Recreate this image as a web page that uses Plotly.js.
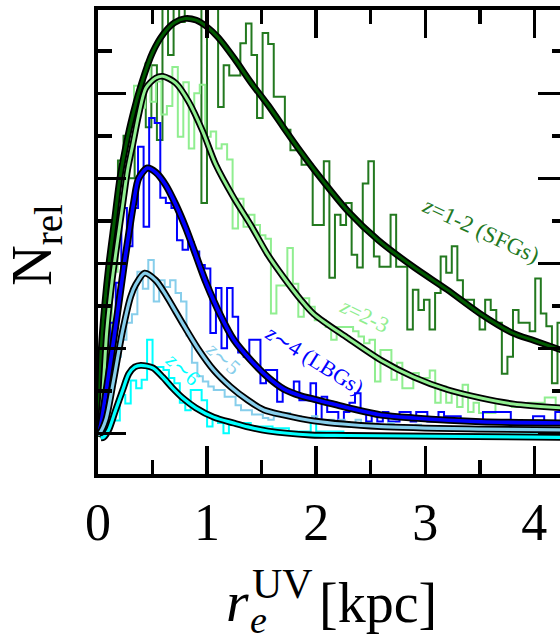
<!DOCTYPE html>
<html>
<head>
<meta charset="utf-8">
<script src="https://cdn.plot.ly/plotly-3.0.1.min.js"></script>
<style>
  html, body { margin: 0; padding: 0; overflow: hidden; background: #fff; }
  #chart { width: 580px; height: 640px; }
</style>
</head>
<body>
<div id="chart"></div>
<script>
// ---- size distributions: relative counts per bin, r_e^UV in kpc ----
// z = 1-2 (SFGs)
const sfgBinStart = 0.03, sfgBinWidth = 0.051;
const sfgCounts = [0.8, 1.6, 2.3, 3.21, 3.5, 3.0, 3.9, 4.1, 3.6, 4.33,
  3.45, 5.3, 4.45, 5.4, 4.84, 5.3, 5.5, 5.2, 2.71, 5.3,
  5.2, 3.84, 4.33, 4.21, 4.21, 4.59, 4.82, 4.45, 3.71, 4.71,
  4.58, 3.96, 3.96, 3.57, 3.33, 3.33, 3.16, 3.16, 2.45, 2.45,
  3.2, 1.83, 2.57, 2.45, 2.71, 2.1, 1.95, 2.94, 3.2, 2.08,
  1.96, 1.96, 2.57, 1.96, 1.96, 1.22, 1.69, 1.45, 1.57, 1.22,
  1.65, 2.08, 1.89, 2.2, 1.8, 1.57, 1.57, 1.43, 1.22, 1.57,
  1.45, 1.30, 0.70, 0.90, 1.45, 1.30, 1.30, 1.20, 1.82, 1.41,
  1.26, 0.59, 1.30];
// z = 2-3
const z23BinStart = 0.029, z23BinWidth = 0.0502;
const z23Counts = [0.5, 1.2, 1.9, 2.6, 3.0, 3.4, 4.09, 3.83, 4.35, 3.9,
  4.14, 3.75, 3.85, 4.31, 3.49, 4.13, 3.35, 4.0, 4.10, 3.49,
  3.55, 3.35, 3.40, 3.22, 2.41, 2.76, 2.43, 2.57, 2.45, 2.33,
  2.29, 1.41, 1.74, 1.74, 2.18, 1.76, 1.37, 1.59, 1.49, 1.33,
  1.33, 1.25, 1.10, 1.25, 1.25, 1.25, 1.20, 1.14, 1.06, 1.10,
  0.61, 0.98, 0.98, 0.63, 0.83, 0.53, 0.53, 0.71, 0.65, 0.65,
  0.74, 0.36, 0.55, 0.36, 0.47, 0.31, 0.57, 0.25, 0.36, 0.24,
  0.24, 0.24, 0.36, 0.36, 0.36, 0.31, 0.31, 0.31, 0.36, 0.36,
  0.36, 0.42, 0.42, 0.30, 0.30];
// z ~ 4 (LBGs)
const z4BinStart = 0.01, z4BinWidth = 0.051;
const z4Counts = [0.3, 0.8, 1.3, 1.77, 2.65, 2.2, 2.65, 3.37, 2.43, 3.71,
  3.65, 2.77, 2.71, 2.65, 2.27, 2.16, 2.25, 2.14, 1.98, 1.94,
  1.18, 1.71, 1.0, 1.71, 1.37, 0.95, 0.90, 1.10, 1.10, 0.59,
  0.745, 0.745, 0.37, 0.49, 0.49, 0.61, 0.39, 0.39, 0.59, 0.14,
  0.43, 0.25, 0.25, 0.14, 0.25, 0.36, 0.47, 0.25, 0.14, 0.25,
  0.14, 0.25, 0.14, 0.14, 0.25, 0.25, 0.14, 0.25, 0.25, 0.14,
  0.14, 0.25, 0.20, 0.20, 0.20, 0.14, 0.14, 0.14, 0.14, 0.25,
  0.25, 0.25, 0.25, 0.25, 0.14, 0.14, 0.14, 0.14, 0.20, 0.20,
  0.14, 0.14, 0.25, 0.14];
// z ~ 5
const z5BinStart = 0.011, z5BinWidth = 0.05;
const z5Counts = [0.15, 0.35, 0.6, 0.9, 1.1, 1.3, 1.4, 1.90, 1.70, 2.04,
  1.55, 1.80, 1.72, 1.80, 1.65, 1.55, 1.15, 0.83, 0.67, 0.61,
  0.55, 0.51, 0.51, 0.43, 0.43, 0.33, 0.27, 0.27, 0.22, 0.22,
  0.18, 0.16, 0.20, 0.24, 0.24, 0.20, 0.20, 0.16, 0.16, 0.20,
  0.16, 0.12, 0.16, 0.12, 0.16, 0.10, 0.10, 0.16, 0.10, 0.12,
  0.10, 0.08, 0.08, 0.12, 0.08, 0.08, 0.08, 0.08, 0.10, 0.06,
  0.06, 0.06, 0.06, 0.06, 0.06, 0.06, 0.06, 0.06, 0.06, 0.06,
  0.06, 0.06, 0.06, 0.06, 0.06, 0.06, 0.06, 0.06, 0.06, 0.06,
  0.06, 0.06, 0.06, 0.06, 0.06, 0.06];
// z ~ 6
const z6BinStart = 0.0, z6BinWidth = 0.05;
const z6Counts = [0.0, 0.05, 0.15, 0.15, 0.45, 0.35, 0.62, 0.53, 0.63, 1.10,
  0.78, 0.78, 0.745, 0.65, 0.59, 0.36, 0.27, 0.51, 0.51, 0.39,
  0.08, 0.20, 0.12, 0.0, 0.10, 0.12, 0.12, 0.12, 0.08, 0.08,
  0.08, 0.08, 0.06, 0.06, 0.06, 0.02, 0.02, 0.02, 0.02, 0.12,
  0.02, 0.02, 0.02, 0.02, 0.02, -0.01, -0.01, -0.01, -0.01, -0.01,
  -0.01, -0.01, -0.01, -0.01, -0.01, -0.01, -0.01, -0.01, -0.01, -0.01,
  -0.01, -0.01, -0.01, -0.01, -0.01, -0.01, -0.01, -0.01, -0.01, -0.01,
  -0.01, -0.01, -0.01, -0.01, -0.01, -0.01, -0.01, -0.01, -0.01, -0.01,
  -0.01, -0.01, -0.01, -0.01, -0.01, -0.01];

// ---- log-normal fits, sampled ----
const sfgFitX = [0, 0.015, 0.03, 0.06, 0.1, 0.15, 0.2, 0.25, 0.3, 0.4, 0.5, 0.6, 0.7, 0.8, 0.9, 1.0, 1.1, 1.25, 1.4, 1.56, 1.7, 1.86, 2.0, 2.3, 2.57, 2.9, 3.2, 3.5, 3.8, 4.0, 4.3];
const sfgFitY = [-0.04, 0.45, 1.0, 1.5, 2.0, 2.5, 3.0, 3.35, 3.65, 4.12, 4.48, 4.70, 4.83, 4.88, 4.86, 4.78, 4.66, 4.41, 4.13, 3.86, 3.60, 3.31, 3.07, 2.60, 2.27, 1.95, 1.69, 1.41, 1.18, 1.09, 0.955];
const z23FitX = [0, 0.02, 0.04, 0.08, 0.13, 0.18, 0.23, 0.272, 0.318, 0.373, 0.438, 0.529, 0.594, 0.713, 0.832, 0.961, 1.08, 1.245, 1.40, 1.557, 1.704, 1.86, 1.98, 2.29, 2.594, 2.896, 3.21, 3.51, 3.81, 4.3];
const z23FitY = [0.0, 0.15, 0.39, 1.2, 1.8, 2.27, 2.72, 3.10, 3.39, 3.745, 4.06, 4.18, 4.20, 4.12, 3.90, 3.55, 3.16, 2.77, 2.45, 2.10, 1.83, 1.57, 1.40, 1.12, 0.86, 0.66, 0.51, 0.415, 0.345, 0.295];
const z4FitX = [0, 0.025, 0.09, 0.163, 0.236, 0.28, 0.328, 0.373, 0.453, 0.529, 0.621, 0.713, 0.805, 0.896, 0.988, 1.126, 1.245, 1.40, 1.557, 1.704, 1.86, 1.98, 2.29, 2.594, 2.896, 3.51, 4.3];
const z4FitY = [-0.01, 0.1, 0.63, 1.27, 1.95, 2.33, 2.72, 3.00, 3.12, 3.07, 2.92, 2.69, 2.415, 2.10, 1.78, 1.38, 1.10, 0.86, 0.66, 0.52, 0.44, 0.40, 0.30, 0.215, 0.18, 0.136, 0.12];
const z5FitX = [0.0, 0.016, 0.071, 0.144, 0.227, 0.30, 0.346, 0.428, 0.529, 0.621, 0.713, 0.786, 0.915, 1.06, 1.217, 1.373, 1.52, 1.70, 1.98, 2.594, 3.51, 4.3];
const z5FitY = [-0.02, 0.0, 0.156, 0.63, 1.215, 1.61, 1.75, 1.885, 1.80, 1.63, 1.43, 1.27, 1.0, 0.745, 0.545, 0.39, 0.275, 0.215, 0.145, 0.078, 0.05, 0.04];
const z6FitX = [0.025, 0.052, 0.098, 0.162, 0.227, 0.282, 0.337, 0.392, 0.502, 0.594, 0.685, 0.777, 0.896, 1.06, 1.245, 1.373, 1.557, 1.95, 2.29, 4.3];
const z6FitY = [-0.055, -0.045, 0.04, 0.275, 0.51, 0.70, 0.78, 0.80, 0.77, 0.66, 0.53, 0.415, 0.30, 0.19, 0.12, 0.075, 0.027, -0.02, -0.026, -0.048];

// ---- tick labels ----
const xTickVals = [0, 1, 2, 3, 4];
const xTickText = ['0', '1', '2', '3', '4'];

// outline of a step histogram, starting from the zero line
function stepOutline(start, width, counts) {
  const xs = [start], ys = [0];
  counts.forEach((c, i) => {
    xs.push(start + i * width, start + (i + 1) * width);
    ys.push(c, c);
  });
  return { xs, ys };
}

const serif = 'Liberation Serif, Times New Roman, serif';
const colSFG = '#23791f', colSFGfit = '#005a00';
const colZ23 = '#90ee90', colZ4 = '#0000ff', colZ5 = '#87ceeb', colZ6 = '#00ffff';

const hists = [
  [sfgBinStart, sfgBinWidth, sfgCounts, colSFG],
  [z23BinStart, z23BinWidth, z23Counts, colZ23],
  [z4BinStart, z4BinWidth, z4Counts, colZ4],
  [z5BinStart, z5BinWidth, z5Counts, colZ5],
  [z6BinStart, z6BinWidth, z6Counts, colZ6]
];
const fits = [
  [sfgFitX, sfgFitY, colSFGfit, 3],
  [z23FitX, z23FitY, colZ23, 3],
  [z4FitX, z4FitY, colZ4, 3.6],
  [z5FitX, z5FitY, colZ5, 3.2],
  [z6FitX, z6FitY, colZ6, 3.2]
];

const traces = [];
hists.forEach(([s, w, c, col]) => {
  const o = stepOutline(s, w, c);
  traces.push({ x: o.xs, y: o.ys, type: 'scatter', mode: 'lines',
    line: { color: col, width: 2, shape: 'linear' }, hoverinfo: 'skip' });
});
fits.forEach(([fx, fy, col, w]) => {
  traces.push({ x: fx, y: fy, type: 'scatter', mode: 'lines',
    line: { color: 'black', width: w + 3.6, shape: 'spline', smoothing: 0.8 }, hoverinfo: 'skip' });
  traces.push({ x: fx, y: fy, type: 'scatter', mode: 'lines',
    line: { color: col, width: w, shape: 'spline', smoothing: 0.8 }, hoverinfo: 'skip' });
});

const axisCommon = {
  showgrid: false, zeroline: false,
  showline: true, linewidth: 4, linecolor: 'black', mirror: 'allticks',
  ticks: 'inside', ticklen: 28, tickwidth: 3.5, tickcolor: 'black'
};

const layout = {
  width: 580, height: 640,
  margin: { l: 98, r: 14, t: 10, b: 166 },
  paper_bgcolor: 'white', plot_bgcolor: 'white',
  showlegend: false,
  xaxis: Object.assign({}, axisCommon, {
    range: [0, 4.29],
    tickmode: 'array', tickvals: xTickVals, ticktext: xTickText,
    tickfont: { family: serif, size: 52, color: 'black' },
    minor: { ticks: 'inside', dtick: 0.5, tick0: 0, ticklen: 14, tickwidth: 3.5, tickcolor: 'black', showgrid: false }
  }),
  yaxis: Object.assign({}, axisCommon, {
    range: [-0.479, 4.98],
    tickmode: 'linear', tick0: 0, dtick: 1,
    showticklabels: false,
    minor: { ticks: 'inside', dtick: 0.5, tick0: 0, ticklen: 14, tickwidth: 3.5, tickcolor: 'black', showgrid: false }
  }),
  annotations: [
    { text: 'N<sub>rel</sub>', textangle: -90, xref: 'paper', yref: 'paper',
      x: -0.133, y: 0.4935, xanchor: 'center', yanchor: 'middle', showarrow: false,
      font: { family: serif, size: 56, color: 'black' } },
    { text: '<i>r</i>', xref: 'paper', yref: 'paper', x: 0.298, y: -0.274,
      xanchor: 'center', yanchor: 'middle', showarrow: false, borderpad: 0,
      font: { family: serif, size: 58, color: 'black' } },
    { text: '<i>e</i>', xref: 'paper', yref: 'paper', x: 0.344, y: -0.314,
      xanchor: 'center', yanchor: 'middle', showarrow: false, borderpad: 0,
      font: { family: serif, size: 38, color: 'black' } },
    { text: 'UV', xref: 'paper', yref: 'paper', x: 0.326, y: -0.236,
      xanchor: 'left', yanchor: 'middle', showarrow: false, borderpad: 0,
      font: { family: serif, size: 42, color: 'black' } },
    { text: '[kpc]', xref: 'paper', yref: 'paper', x: 0.47, y: -0.278,
      xanchor: 'left', yanchor: 'middle', showarrow: false, borderpad: 0,
      font: { family: serif, size: 56, color: 'black' } },
    { text: '<i>z</i>=1-2 (SFGs)', x: 3.51, y: 2.39, textangle: 25, showarrow: false,
      font: { family: serif, size: 23, color: colSFG } },
    { text: '<i>z</i>=2-3', x: 2.447, y: 1.39, textangle: 26, showarrow: false,
      font: { family: serif, size: 22, color: colZ23 } },
    { text: '<i>z</i>∼4 (LBGs)', x: 1.98, y: 0.87, textangle: 32, showarrow: false,
      font: { family: serif, size: 22, color: colZ4 } },
    { text: '<i>z</i>∼5', x: 1.144, y: 0.88, textangle: 42, showarrow: false,
      font: { family: serif, size: 21, color: colZ5 } },
    { text: '<i>z</i>∼6', x: 0.778, y: 0.76, textangle: 42, showarrow: false,
      font: { family: serif, size: 21, color: colZ6 } }
  ]
};

Plotly.newPlot('chart', traces, layout, { staticPlot: true, displayModeBar: false });
</script>
</body>
</html>
